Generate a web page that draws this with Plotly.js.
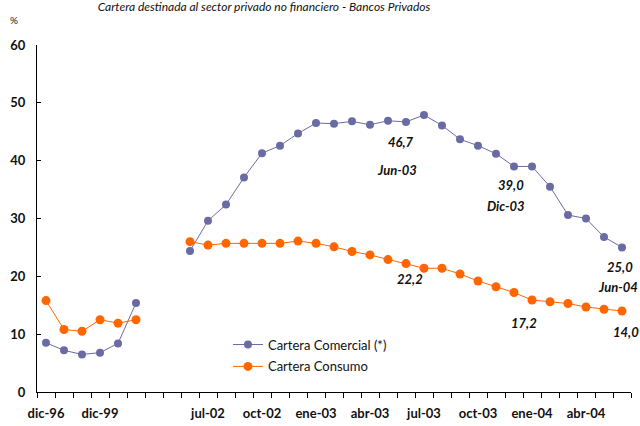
<!DOCTYPE html>
<html>
<head>
<meta charset="utf-8">
<script src="https://cdn.plot.ly/plotly-3.0.1.min.js"></script>
<style>html,body{margin:0;padding:0;background:#fff;}#chart{width:640px;height:426px;}</style>
</head>
<body>
<div id="chart"></div>
<script>
var categories = ['dic-96','dic-97','dic-98','dic-99','dic-00','dic-01','gap-1','gap-2',
  'jun-02','jul-02','ago-02','sep-02','oct-02','nov-02','dic-02',
  'ene-03','feb-03','mar-03','abr-03','may-03','jun-03','jul-03','ago-03','sep-03','oct-03','nov-03','dic-03',
  'ene-04','feb-04','mar-04','abr-04','may-04','jun-04'];
var comercial = [8.5,7.2,6.5,6.8,8.4,15.4,null,null,
  24.4,29.6,32.4,37.1,41.3,42.6,44.7,
  46.5,46.4,46.8,46.2,46.9,46.7,47.9,46.1,43.7,42.6,41.2,39.0,
  39.0,35.5,30.6,30.0,26.8,25.0];
var consumo = [15.8,10.8,10.5,12.5,11.9,12.5,null,null,
  26.0,25.4,25.7,25.7,25.7,25.7,26.1,
  25.7,25.1,24.3,23.7,22.9,22.2,21.4,21.4,20.4,19.2,18.2,17.2,
  15.9,15.6,15.3,14.7,14.3,14.0];
var tickLabels = ['dic-96','dic-99','jul-02','oct-02','ene-03','abr-03','jul-03','oct-03','ene-04','abr-04'];
var yTicks = [0,10,20,30,40,50,60];

var xIdx = categories.map(function(c,i){return i;});
var tickvals = tickLabels.map(function(l){return categories.indexOf(l);});
var blue = '#6B6BA3', orange = '#FF6600';
var fmt = function(v){return v.toFixed(1).replace('.',',');};
var FAM = 'Lato, "DejaVu Sans", sans-serif';
var lab = {family:FAM, size:13, color:'#111'};

function ann(cat, arr, text, dx, dy){
  var i = categories.indexOf(cat);
  return {x:i, y:arr[i], xref:'x', yref:'y', text:'<b><i>'+text+'</i></b>', showarrow:false,
    xshift:dx, yshift:dy, font:lab, xanchor:'center', yanchor:'middle'};
}

var traces = [
  {x:xIdx, y:comercial, name:'Cartera Comercial (*)', type:'scatter', mode:'lines+markers',
   line:{color:blue,width:1}, marker:{color:blue,size:8}, connectgaps:false, legendgroup:'a'},
  {x:xIdx, y:consumo, name:'Cartera Consumo', type:'scatter', mode:'lines+markers',
   line:{color:orange,width:1}, marker:{color:orange,size:9}, connectgaps:false, legendgroup:'b'}
];

var layout = {
  width:640, height:426,
  margin:{l:37, r:9, t:45, b:34},
  paper_bgcolor:'#fff', plot_bgcolor:'#fff',
  font:{family:FAM, color:'#111'},
  title:{text:'<i>Cartera destinada al sector privado no financiero - Bancos Privados</i>',
    x:0.4125, xref:'container', xanchor:'center', y:0.984, yref:'container', yanchor:'middle',
    font:{family:FAM, size:12, color:'#111'}},
  xaxis:{range:[-0.5, categories.length-0.5], tickmode:'array', tickvals:tickvals,
    ticktext:tickLabels.map(function(t){return '<b>'+t+'</b>';}),
    ticks:'', showgrid:false, zeroline:false, showline:true, linecolor:'#000', linewidth:1,
    tickfont:{family:FAM, size:13, color:'#111'},
    ticklabelstandoff:9,
    minor:{ticks:'outside', tick0:-0.5, dtick:1, ticklen:5, tickcolor:'#000', tickwidth:1, showgrid:false}},
  yaxis:{range:[0,60], tickmode:'array', tickvals:yTicks, ticktext:yTicks.map(function(t){return '<b>'+t+'</b>';}),
    ticks:'inside', ticklen:4, tickcolor:'#000', showgrid:false, zeroline:false, showline:true,
    linecolor:'#000', linewidth:1,
    tickfont:{family:FAM, size:13, color:'#111'},
    ticklabelstandoff:8},
  showlegend:true,
  legend:{x:0.3215, y:0.18, xanchor:'left', yanchor:'top', traceorder:'grouped', tracegroupgap:2,
    bgcolor:'rgba(0,0,0,0)', font:{family:FAM, size:13, color:'#111'}},
  annotations:[
    {x:(14-37)/594, y:(392-20)/347, xref:'paper', yref:'paper', text:'%', showarrow:false,
      xanchor:'center', yanchor:'middle', font:{family:FAM, size:10, color:'#111'}},
    ann('jun-03', comercial, fmt(comercial[categories.indexOf('jun-03')]), -5, -20),
    ann('jun-03', comercial, 'Jun-03', -9, -48),
    ann('dic-03', comercial, fmt(comercial[categories.indexOf('dic-03')]), -3, -19),
    ann('dic-03', comercial, 'Dic-03', -8, -40),
    ann('jun-04', comercial, fmt(comercial[categories.indexOf('jun-04')]), -2, -20),
    ann('jun-04', comercial, 'Jun-04', -4, -40),
    ann('jun-03', consumo, fmt(consumo[categories.indexOf('jun-03')]), 4, -15),
    ann('dic-03', consumo, fmt(consumo[categories.indexOf('dic-03')]), 10, -30),
    ann('jun-04', consumo, fmt(consumo[categories.indexOf('jun-04')]), 4, -21)
  ]
};

Plotly.newPlot('chart', traces, layout, {displayModeBar:false, staticPlot:true});
</script>
</body>
</html>
